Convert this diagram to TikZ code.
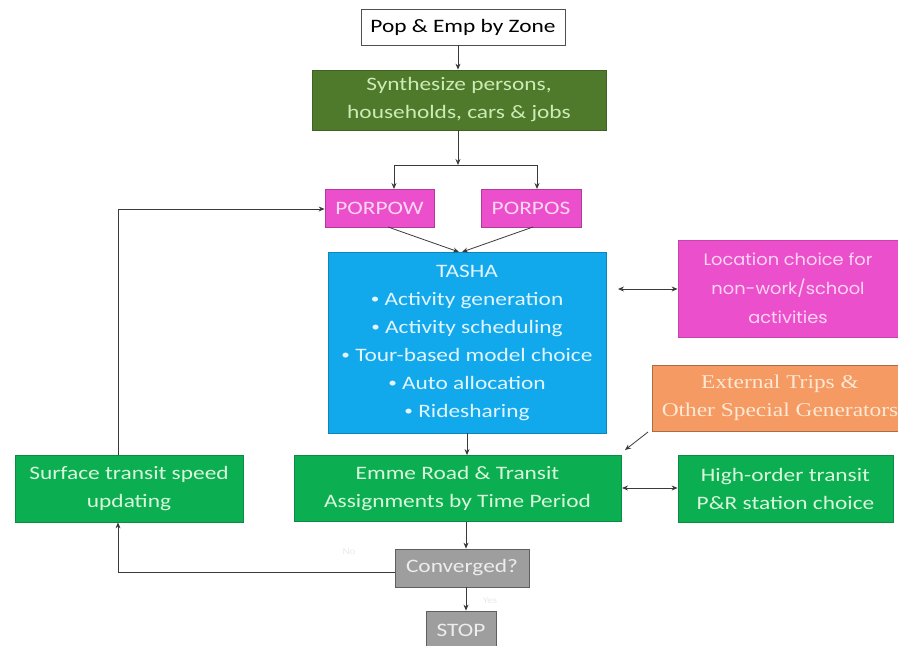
\documentclass[tikz,border=0pt]{standalone}
\usepackage{fontspec}
\setmainfont{Carlito}[FakeStretch=1.23]
\newfontfamily\serifface{Liberation Serif}[FakeStretch=1.2]
\newfontfamily\roundface{Poppins}[FakeStretch=1.08]
\usetikzlibrary{arrows.meta}

\definecolor{popedge}{HTML}{505050}
\definecolor{olive}{HTML}{4F7A2C}
\definecolor{olivetext}{HTML}{CDEBB4}
\definecolor{pink}{HTML}{EC4FCC}
\definecolor{pinktext}{HTML}{FFD6F4}
\definecolor{skyblue}{HTML}{12A8EC}
\definecolor{skytext}{HTML}{E2F5FF}
\definecolor{orange}{HTML}{F49A62}
\definecolor{orangetext}{HTML}{FFE8D4}
\definecolor{grass}{HTML}{0BAE50}
\definecolor{grasstext}{HTML}{D8F7DC}
\definecolor{stone}{HTML}{9E9E9E}
\definecolor{stonetext}{HTML}{EDEDED}
\definecolor{wire}{HTML}{3A3A3A}

% small round bullet for the list inside the TASHA box
\newcommand{\dotitem}{\raisebox{0.12ex}{\fontsize{14}{14}\selectfont\textbullet}\ }

\tikzset{
  box/.style={draw, line width=0.8pt, align=center, inner sep=2pt,
    font=\fontsize{19}{28}\selectfont},
  inputbox/.style={box, fill=white, draw=popedge, text=black},
  synthbox/.style={box, fill=olive, draw=olive!80!black, text=olivetext},
  porbox/.style={box, fill=pink, draw=pink!75!black, text=pinktext},
  tashabox/.style={box, fill=skyblue, draw=skyblue!80!black, text=skytext},
  locbox/.style={box, fill=pink, draw=pink!85!black, text=pinktext,
    font=\roundface\fontsize{16.5}{29}\selectfont},
  extbox/.style={box, fill=orange, draw=orange!70!black, text=orangetext,
    font=\serifface\fontsize{19.5}{28}\selectfont},
  assignbox/.style={box, fill=grass, draw=grass!80!black, text=grasstext},
  greybox/.style={box, fill=stone, draw=stone!60!black, text=stonetext},
  flow/.style={draw=wire, line width=0.8pt, -{Stealth[length=6pt,width=5pt]}},
  twoway/.style={draw=wire, line width=0.8pt,
    {Stealth[length=6pt,width=5pt]}-{Stealth[length=6pt,width=5pt]}},
  faint/.style={text=gray!18, font=\fontsize{9}{10}\selectfont}
}

\begin{document}
\begin{tikzpicture}[x=1pt,y=-1pt]
\useasboundingbox (0,0) rectangle (898,646);
\clip (0,0) rectangle (898,646);

% boxes
\node[inputbox, minimum width=204pt, minimum height=36pt] (pop) at (463,27) {Pop \& Emp by Zone};
\node[synthbox, minimum width=294pt, minimum height=60pt] (syn) at (459,100)
  {Synthesize persons,\\households, cars \& jobs};
\node[porbox, minimum width=109pt, minimum height=38pt] (porpow) at (379.5,208) {PORPOW};
\node[porbox, minimum width=100pt, minimum height=38pt] (porpos) at (531,208) {PORPOS};
\node[tashabox, minimum width=278pt, minimum height=181pt] (tasha) at (467,342.5)
  {TASHA\\ \dotitem Activity generation\\ \dotitem Activity scheduling\\
   \dotitem Tour-based model choice\\ \dotitem Auto allocation\\ \dotitem Ridesharing};
\node[locbox, minimum width=220pt, minimum height=97pt] (loc) at (788,288.5)
  {Location choice for\\non-work/school\\activities};
\node[extbox, minimum width=256pt, minimum height=66pt] (ext) at (780,398)
  {External Trips \&\\Other Special Generators};
\node[assignbox, minimum width=228pt, minimum height=67pt] (surf) at (129,488.5)
  {Surface transit speed\\updating};
\node[assignbox, minimum width=327pt, minimum height=66pt] (emme) at (457.5,488.5)
  {Emme Road \& Transit\\Assignments by Time Period};
\node[assignbox, minimum width=215pt, minimum height=67pt] (high) at (785.5,488.5)
  {High-order transit\\P\&R station choice};
\node[greybox, minimum width=134pt, minimum height=38pt] (conv) at (462,568) {Converged?};
\node[greybox, minimum width=70pt, minimum height=38pt] (stop) at (461,630) {STOP};

% faint branch labels
\node[faint] (nolab) at (349,552) {No};
\node[faint] (yeslab) at (490,601) {Yes};

% routing points
\coordinate (split) at (458,165);
\coordinate (powin) at (394,189);
\coordinate (posin) at (537,189);
\coordinate (powout) at (388,227);
\coordinate (posout) at (533,227);
\coordinate (tashaa) at (459,252);
\coordinate (tashab) at (462,252);
\coordinate (locend) at (618,289);
\coordinate (extout) at (648,432);
\coordinate (extend) at (625,450);
\coordinate (highend) at (622,488);
\coordinate (vline) at (466,0);
\coordinate (loopx) at (118,572);
\coordinate (loopy) at (118,209);

% connectors
\draw[flow] (pop.south -| split) -- (syn.north -| split);
\draw[flow] (syn.south -| split) -- (split);
\draw[flow] (split) -| (powin);
\draw[flow] (split) -| (posin);
\draw[flow] (powout) -- (tashaa);
\draw[flow] (posout) -- (tashab);
\draw[twoway] (locend) -- (loc.west |- locend);
\draw[flow] (tasha.south) -- (emme.north -| tasha.south);
\draw[flow] (extout) -- (extend);
\draw[twoway] (highend) -- (high.west |- highend);
\draw[flow] (emme.south -| vline) -- (conv.north -| vline);
\draw[flow] (conv.south -| vline) -- (stop.north -| vline);
\draw[flow] (conv.west |- loopx) -- (loopx) -- (surf.south -| loopx);
\draw[flow] (surf.north -| loopy) -- (loopy) -- (porpow.west |- loopy);
\end{tikzpicture}
\end{document}
